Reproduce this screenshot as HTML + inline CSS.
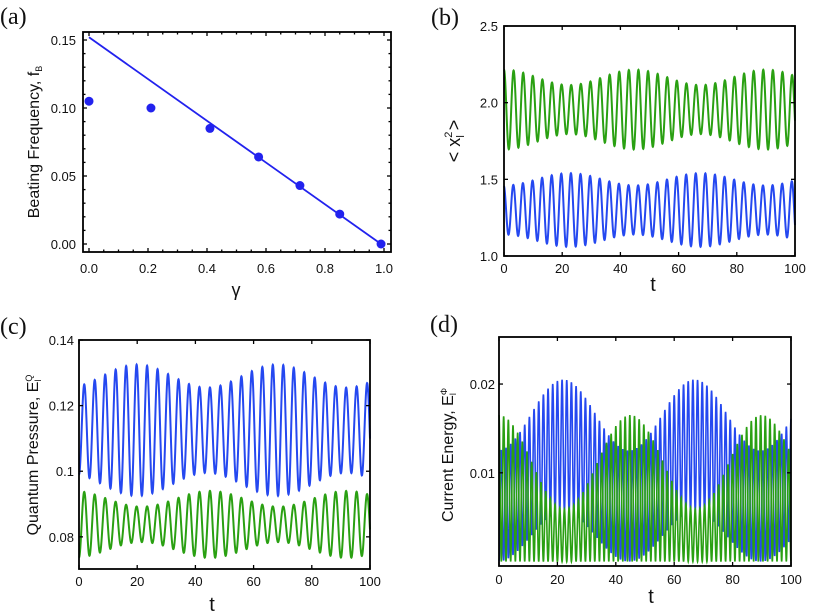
<!DOCTYPE html>
<html><head><meta charset="utf-8"><style>
html,body{margin:0;padding:0;background:#fff;}
svg{display:block;}
text{font-family:"Liberation Sans",sans-serif;fill:#111;}
.t{font-size:13px;}
.ser{font-family:"Liberation Serif",serif;font-size:24px;}
</style></head><body>
<svg id="s" width="830" height="616" viewBox="0 0 830 616" xmlns="http://www.w3.org/2000/svg">
<text class="ser" x="0" y="24">(a)</text>
<text class="ser" x="431" y="25">(b)</text>
<text class="ser" x="0" y="334">(c)</text>
<text class="ser" x="430" y="332">(d)</text>
<text font-size="16" transform="translate(39,142) rotate(-90)" text-anchor="middle">Beating Frequency, f<tspan font-size="9" dy="3">B</tspan></text>
<text font-size="18" x="236" y="296" text-anchor="middle">γ</text>
<text font-size="18" transform="translate(460,141) rotate(-90)" text-anchor="middle">&lt; x<tspan font-size="11" dy="-8">2</tspan><tspan font-size="11" dx="-6" dy="12">l</tspan><tspan dy="-4"> &gt;</tspan></text>
<text font-size="20" x="653" y="291" text-anchor="middle">t</text>
<text font-size="16" transform="translate(38,455) rotate(-90)" text-anchor="middle">Quantum Pressure, E<tspan font-size="9" dy="3">l</tspan><tspan font-size="9" dy="-9" dx="-2">Q</tspan></text>
<text font-size="20" x="212" y="611" text-anchor="middle">t</text>
<text font-size="16" transform="translate(453,455) rotate(-90)" text-anchor="middle">Current Energy, E<tspan font-size="9" dy="3">l</tspan><tspan font-size="9" dy="-9" dx="-2">Φ</tspan></text>
<text font-size="20" x="651" y="603" text-anchor="middle">t</text>
<g id="g"></g>
</svg>
<script>
var g=document.getElementById('g'),h='';
function P(pts,c,w){var d='M'+pts.map(function(p){return p[0].toFixed(2)+','+p[1].toFixed(2)}).join('L');h+='<path d="'+d+'" fill="none" stroke="'+c+'" stroke-width="'+(w||2)+'"/>';}
function frame(L,R,T,B){h+='<rect x="'+L+'" y="'+T+'" width="'+(R-L)+'" height="'+(B-T)+'" fill="none" stroke="#000" stroke-width="1.8"/>';}
function tk(x1,y1,x2,y2){h+='<line x1="'+x1+'" y1="'+y1+'" x2="'+x2+'" y2="'+y2+'" stroke="#000" stroke-width="1.3"/>';}
function tx(x,y,s,a){h+='<text class="t" x="'+x+'" y="'+y+'" text-anchor="'+(a||'middle')+'">'+s+'</text>';}
(function(){var L=83,R=391,T=32,B=252;
var X=function(v){return 89+v*295},Y=function(v){return 244-v*1360};
P([[X(0),Y(0.152)],[X(0.99),Y(0)]],'#2222ee',1.8);
[[0,0.105],[0.21,0.100],[0.41,0.085],[0.575,0.064],[0.715,0.043],[0.85,0.022],[0.99,0]].forEach(function(p){h+='<circle cx="'+X(p[0])+'" cy="'+Y(p[1])+'" r="4.5" fill="#2222ee"/>';});
frame(L,R,T,B);
for(var v=0;v<=1.001;v+=0.05){var x=X(v),m=Math.abs(v*5-Math.round(v*5))<1e-6,l=m?4:2.5;tk(x,B,x,B-l);tk(x,T,x,T+l);}
for(var v=0;v<=0.1501;v+=0.01){var y=Y(v),m=Math.abs(v*20-Math.round(v*20))<1e-6,l=m?4:2.5;tk(L,y,L+l,y);tk(R,y,R-l,y);}
['0.0','0.2','0.4','0.6','0.8','1.0'].forEach(function(s,i){tx(X(i*0.2),273,s)});
['0.00','0.05','0.10','0.15'].forEach(function(s,i){tx(76,Y(i*0.05)+5,s,'end')});
})();
function panel(L,R,T,B,y0,y1,yt,ytl,xlY,ylX,series){
var X=function(t){return L+(R-L)*t/100},Y=function(v){return B-(v-y0)/(y1-y0)*(B-T)};
series.forEach(function(s){var pts=[];for(var t=0;t<=100;t+=0.05)pts.push([X(t),Y(s.f(t))]);P(pts,s.c,s.w);});
frame(L,R,T,B);
for(var t=0;t<=100;t+=20){tk(X(t),B,X(t),B-4);tk(X(t),T,X(t),T+4);tx(X(t),xlY,String(t));}
yt.forEach(function(v,i){tk(L,Y(v),L+4,Y(v));tk(R,Y(v),R-4,Y(v));tx(ylX,Y(v)+5,ytl[i],'end');});
}
var C=Math.cos,PI=Math.PI;
var BL='#2548f0',GR='#2aa012';
panel(504,795,26,256,1.0,2.5,[1,1.5,2,2.5],['1.0','1.5','2.0','2.5'],273,498,[
{c:GR,f:function(t){var a=0.21+0.05*C(2*PI*t/45);return 1.955+a*C(2*PI*t/3.3);}},
{c:BL,f:function(t){var a=0.20-0.04*C(2*PI*t/45);return 1.3+a*C(2*PI*t/3.3+0.2);}}]);
panel(79,370,340,569,0.0702,0.14,[0.08,0.1,0.12,0.14],['0.08','0.1','0.12','0.14'],586,74,[
{c:BL,f:function(t){var a=0.0165+0.0035*C(2*PI*(t-20)/48);return 0.1125-a*C(2*PI*t/3.6);}},
{c:GR,f:function(t){var a=0.0078+0.0024*C(2*PI*(t-45)/47);return 0.0838-a*C(2*PI*t/3.6);}}]);
panel(499,791,337,566,-0.0005,0.0253,[0.01,0.02],['0.01','0.02'],584,495,[
{c:BL,w:1.6,f:function(t){var ph=2*PI*(t-22)/45,U=0.0165+0.004*C(ph),Lo=0.0028+0.0028*C(ph);return Lo+(U-Lo)*(0.5+0.5*C(2*PI*t/1.6+PI));}},
{c:GR,w:1.6,f:function(t){var U=0.0112+0.0053*C(2*PI*t/45);return U*(0.5+0.5*C(2*PI*t/1.6));}}]);
g.innerHTML=h;
</script>
</body></html>
